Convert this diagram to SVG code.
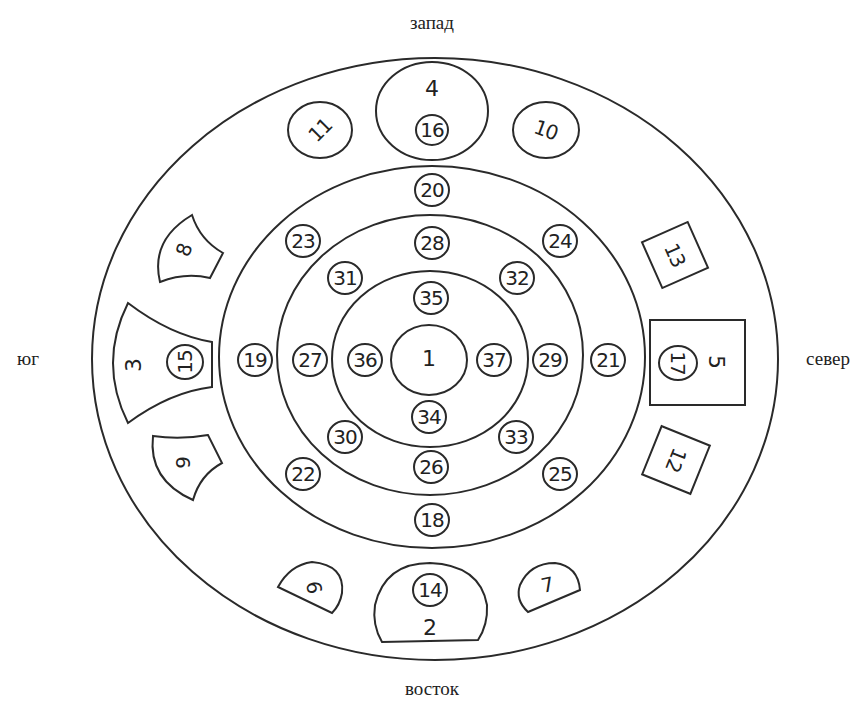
<svg xmlns="http://www.w3.org/2000/svg" width="866" height="702" viewBox="0 0 866 702">
<style>
.ln{fill:none;stroke:#2a2a2a;stroke-width:2}
.sh{fill:#fff;stroke:#2a2a2a;stroke-width:2}
.num{font-family:"DejaVu Sans","Liberation Sans",sans-serif;font-size:20px;fill:#222;text-anchor:middle;dominant-baseline:central;letter-spacing:-1px}
.big{font-family:"DejaVu Sans","Liberation Sans",sans-serif;font-size:22px;fill:#222;text-anchor:middle;dominant-baseline:central}
.dir{font-family:"Liberation Serif",serif;font-size:19px;fill:#222;text-anchor:middle;dominant-baseline:central}
</style>
<defs>
<ellipse id="sc" cx="0" cy="0" rx="17" ry="16"/>
</defs>
<rect width="866" height="702" fill="#fff"/>
<g id="labels">
<text class="dir" x="432" y="22">запад</text>
<text class="dir" x="28" y="358">юг</text>
<text class="dir" x="828" y="358">север</text>
<text class="dir" x="432" y="688">восток</text>
</g>
<g id="rings">
<ellipse class="ln" cx="435" cy="359" rx="343" ry="301"/>
<ellipse class="ln" cx="432" cy="357" rx="213" ry="191"/>
<ellipse class="ln" cx="430" cy="355" rx="153" ry="140"/>
<ellipse class="ln" cx="430" cy="359" rx="98" ry="88"/>
</g>
<g id="n4"><ellipse class="sh" cx="432" cy="111" rx="56" ry="49"/><text class="big" x="432" y="88">4</text></g>
<g id="n16"><ellipse class="ln" cx="432" cy="130" rx="16" ry="15"/><text class="num" x="432" y="130">16</text></g>
<g id="n11"><ellipse class="ln" cx="320" cy="130" rx="32" ry="28"/><text class="num" transform="translate(320 130) rotate(-45)">11</text></g>
<g id="n10"><ellipse class="ln" cx="546" cy="130" rx="33" ry="28"/><text class="num" transform="translate(546 130) rotate(20)">10</text></g>
<g id="n8"><path class="sh" d="M192,215 Q200,240 223,253 L210,278 Q185,272 160,282 Q150,240 192,215 Z"/><text class="num" transform="translate(184 250) rotate(-70)">8</text></g>
<g id="n3"><path class="sh" d="M128,303 Q170,335 212,342 L212,387 Q170,392 128,423 Q98,363 128,303 Z"/><text class="big" transform="translate(133 365) rotate(-90)">3</text></g>
<g id="n15"><ellipse class="ln" cx="185" cy="362" rx="18" ry="17"/><text class="num" transform="translate(185 362) rotate(-90)">15</text></g>
<g id="n9"><path class="sh" d="M153,436 Q180,440 208,435 L222,463 Q200,475 193,500 Q148,480 153,436 Z"/><text class="num" transform="translate(183 463) rotate(-90)">9</text></g>
<g id="n6"><path class="sh" d="M278,587 Q290,565 312,562 Q345,565 342,593 Q340,605 332,613 Z"/><text class="num" transform="translate(314 587) rotate(80)">6</text></g>
<g id="n2"><path class="sh" d="M382,642 Q372,625 375,605 Q385,563 430,563 Q480,565 487,605 Q488,625 478,640 Z"/><text class="big" x="430" y="627">2</text></g>
<g id="n14"><ellipse class="ln" cx="430" cy="590" rx="17" ry="16"/><text class="num" x="430" y="590">14</text></g>
<g id="n7"><path class="sh" d="M528,612 Q515,600 520,585 Q530,563 555,563 Q578,566 580,590 Z"/><text class="num" transform="translate(547 585) rotate(-12)">7</text></g>
<g id="n13"><rect class="sh" x="-25" y="-25" width="50" height="50" transform="translate(675 255) rotate(-24)"/><text class="num" transform="translate(675 255) rotate(66)">13</text></g>
<g id="n5"><rect class="sh" x="650" y="320" width="95" height="85"/><text class="big" transform="translate(716 362) rotate(90)">5</text></g>
<g id="n17"><ellipse class="ln" cx="678" cy="363" rx="19" ry="17"/><text class="num" transform="translate(678 363) rotate(90)">17</text></g>
<g id="n12"><rect class="sh" x="-26" y="-26" width="52" height="52" transform="translate(676 460) rotate(22)"/><text class="num" transform="translate(676 460) rotate(112)">12</text></g>
<g id="n1"><ellipse class="ln" cx="429" cy="360" rx="38" ry="35"/><text class="big" x="429" y="358">1</text></g>
<g id="n20"><use href="#sc" class="ln" x="432" y="190"/><text class="num" x="432" y="190">20</text></g>
<g id="n23"><use href="#sc" class="ln" x="303" y="241"/><text class="num" x="303" y="241">23</text></g>
<g id="n24"><use href="#sc" class="ln" x="560" y="241"/><text class="num" x="560" y="241">24</text></g>
<g id="n28"><use href="#sc" class="ln" x="432" y="243"/><text class="num" x="432" y="243">28</text></g>
<g id="n31"><use href="#sc" class="ln" x="345" y="278"/><text class="num" x="345" y="278">31</text></g>
<g id="n32"><use href="#sc" class="ln" x="517" y="278"/><text class="num" x="517" y="278">32</text></g>
<g id="n35"><use href="#sc" class="ln" x="431" y="298"/><text class="num" x="431" y="298">35</text></g>
<g id="n19"><use href="#sc" class="ln" x="255" y="360"/><text class="num" x="255" y="360">19</text></g>
<g id="n27"><use href="#sc" class="ln" x="310" y="360"/><text class="num" x="310" y="360">27</text></g>
<g id="n36"><use href="#sc" class="ln" x="365" y="360"/><text class="num" x="365" y="360">36</text></g>
<g id="n37"><use href="#sc" class="ln" x="494" y="360"/><text class="num" x="494" y="360">37</text></g>
<g id="n29"><use href="#sc" class="ln" x="550" y="360"/><text class="num" x="550" y="360">29</text></g>
<g id="n21"><use href="#sc" class="ln" x="608" y="360"/><text class="num" x="608" y="360">21</text></g>
<g id="n34"><use href="#sc" class="ln" x="429" y="417"/><text class="num" x="429" y="417">34</text></g>
<g id="n30"><use href="#sc" class="ln" x="345" y="437"/><text class="num" x="345" y="437">30</text></g>
<g id="n33"><use href="#sc" class="ln" x="516" y="437"/><text class="num" x="516" y="437">33</text></g>
<g id="n26"><use href="#sc" class="ln" x="431" y="467"/><text class="num" x="431" y="467">26</text></g>
<g id="n22"><use href="#sc" class="ln" x="303" y="474"/><text class="num" x="303" y="474">22</text></g>
<g id="n25"><use href="#sc" class="ln" x="560" y="474"/><text class="num" x="560" y="474">25</text></g>
<g id="n18"><use href="#sc" class="ln" x="432" y="520"/><text class="num" x="432" y="520">18</text></g>
<g id="connectors"></g>
</svg>
